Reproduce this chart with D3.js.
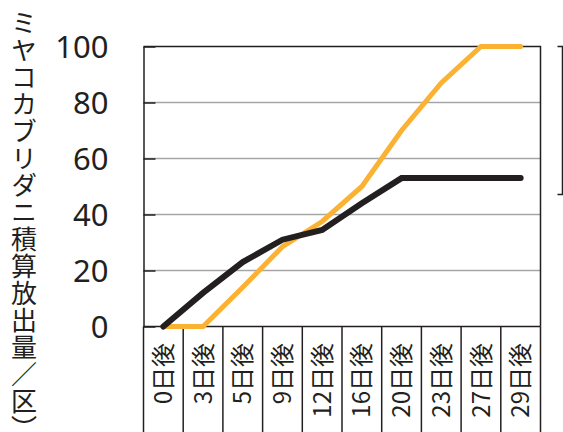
<!DOCTYPE html>
<html>
<head>
<meta charset="utf-8">
<script src="https://cdn.jsdelivr.net/npm/d3@7"></script>
<style>
  html, body { margin: 0; padding: 0; background: #fff; }
  svg { display: block; }
</style>
</head>
<body>
<svg id="chart" width="563" height="432"></svg>
<script>
// Days after release
const categories = ["0日後", "3日後", "5日後", "9日後", "12日後", "16日後", "20日後", "23日後", "27日後", "29日後"];
// Cumulative released mites per plot
const blackSeries  = [0, 12, 23, 31, 34.5, 44, 53, 53, 53, 53];
const orangeSeries = [0, 0, 14, 28.5, 37.5, 50, 70, 87, 100, 100];
const yTicks = [0, 20, 40, 60, 80, 100];
const yTitle = "ミヤコカブリダニ積算放出量／区）";

const ink = "#231F20";
const svg = d3.select("#chart");

const plot = { left: 143.5, right: 540.5, top: 46.5, bottom: 326.5 };

const x = d3.scaleBand().domain(categories).range([plot.left, plot.right]).padding(0);
const y = d3.scaleLinear().domain([0, 100]).range([plot.bottom, plot.top]);

// horizontal gridlines
svg.append("g")
  .selectAll("line")
  .data(yTicks.filter(d => d > 0 && d < 100))
  .join("line")
  .attr("x1", plot.left).attr("x2", plot.right)
  .attr("y1", d => y(d)).attr("y2", d => y(d))
  .attr("stroke", "#A6A6A6").attr("stroke-width", 1.5);

// plot frame (top and right edges)
svg.append("path")
  .attr("d", `M${plot.left},${plot.top}H${plot.right}V${plot.bottom}`)
  .attr("fill", "none").attr("stroke", ink).attr("stroke-width", 1.5);

// y axis with short inward ticks
const yAxis = svg.append("g")
  .attr("transform", `translate(${plot.left},0)`)
  .call(d3.axisLeft(y).tickValues(yTicks).tickSize(-12).tickPadding(35).tickSizeOuter(0));
yAxis.select(".domain").attr("stroke", ink).attr("stroke-width", 1.5);
yAxis.selectAll(".tick line").attr("stroke", ink).attr("stroke-width", 1.5);
yAxis.selectAll(".tick text")
  .attr("font-family", "'Noto Sans', 'Open Sans', sans-serif")
  .attr("font-size", 31)
  .attr("fill", ink)
  .attr("dy", "0.35em");

// x axis baseline
svg.append("line")
  .attr("x1", plot.left).attr("x2", plot.right)
  .attr("y1", plot.bottom).attr("y2", plot.bottom)
  .attr("stroke", ink).attr("stroke-width", 1.5);

// category separators extending below the axis
const bounds = categories.map(c => x(c)).concat([x.range()[1]]);
svg.append("g")
  .selectAll("line")
  .data(bounds)
  .join("line")
  .attr("x1", d => d).attr("x2", d => d)
  .attr("y1", plot.bottom).attr("y2", 432)
  .attr("stroke", ink).attr("stroke-width", 1.5);

// rotated category labels
svg.append("g")
  .selectAll("text")
  .data(categories)
  .join("text")
  .attr("transform", d => `translate(${x(d) + x.bandwidth() / 2},343) rotate(-90)`)
  .attr("text-anchor", "end")
  .attr("dy", "0.36em")
  .attr("font-family", "'Noto Sans CJK JP', sans-serif")
  .attr("font-size", 24)
  .attr("fill", ink)
  .text(d => d);

// series lines
const line = d3.line()
  .x((d, i) => x(categories[i]) + x.bandwidth() / 2)
  .y(d => y(d));

svg.append("path")
  .datum(orangeSeries)
  .attr("d", line)
  .attr("fill", "none")
  .attr("stroke", "#FBB131")
  .attr("stroke-width", 5)
  .attr("stroke-linecap", "round");

svg.append("path")
  .datum(blackSeries)
  .attr("d", line)
  .attr("fill", "none")
  .attr("stroke", ink)
  .attr("stroke-width", 6)
  .attr("stroke-linecap", "round");

// legend frame edge at the right margin
svg.append("path")
  .attr("d", "M557.5,46.5H562.5V194.5H557.5")
  .attr("fill", "none").attr("stroke", ink).attr("stroke-width", 1.5);

// vertical axis title
svg.append("text")
  .attr("x", 24).attr("y", 10)
  .attr("font-family", "'Noto Sans CJK JP', sans-serif")
  .attr("font-size", 26)
  .attr("letter-spacing", 1)
  .attr("fill", ink)
  .style("writing-mode", "vertical-rl")
  .style("text-orientation", "upright")
  .text(yTitle);
</script>
</body>
</html>
